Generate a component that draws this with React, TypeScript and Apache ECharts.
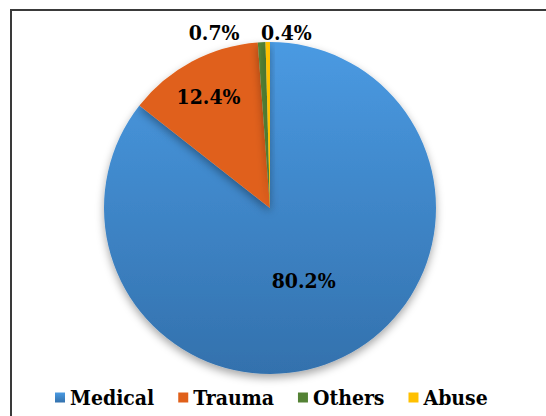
import React, { useEffect, useRef } from "react";
import * as echarts from "echarts";

const categories = ["Medical", "Trauma", "Others", "Abuse"];
const values = [80.2, 12.4, 0.7, 0.4];
const colors = ["#4393dc", "#e0601a", "#548235", "#ffc000"];
const labelOffsets: [number, number][] = [[-4, -5], [-21, -36], [-17, -8], [49, -8]];

export default function App() {
  const ref = useRef<HTMLDivElement>(null);
  useEffect(() => {
    if (!ref.current) return;
    const chart = echarts.init(ref.current, null, { renderer: "svg" });
    const font = "DejaVu Serif Condensed, DejaVu Serif";
    chart.setOption({
      animation: false,
      graphic: [
        {
          type: "rect",
          shape: { x: 11, y: 10, width: 560, height: 430 },
          style: { fill: "none", stroke: "#3a3a3a", lineWidth: 2 },
          silent: true,
        },
      ],
      legend: {
        bottom: 3,
        left: 50,
        icon: "rect",
        itemWidth: 10,
        itemHeight: 10,
        itemGap: 24,
        data: categories,
        textStyle: { fontFamily: font, fontWeight: "bold", fontSize: 21, color: "#000" },
      },
      series: [
        {
          type: "pie",
          center: [270, 208],
          radius: 166,
          startAngle: 90,
          clockwise: true,
          avoidLabelOverlap: false,
          label: {
            show: true,
            fontFamily: font,
            fontWeight: "bold",
            fontSize: 21,
            color: "#000",
            formatter: (p: any) => p.value.toFixed(1) + "%",
          },
          labelLayout: (p: any) => {
            const o = labelOffsets[p.dataIndex];
            return { dx: o[0], dy: o[1] };
          },
          data: categories.map((name, i) => ({
            name,
            value: values[i],
            itemStyle: {
              color:
                i === 0
                  ? new echarts.graphic.LinearGradient(0, 0, 0, 1, [
                      { offset: 0, color: "#4a9ae2" },
                      { offset: 1, color: "#3371ad" },
                    ])
                  : colors[i],
              shadowBlur: 8,
              shadowOffsetY: 4,
              shadowColor: "rgba(0,0,0,0.35)",
            },
            label: { position: i < 2 ? "inside" : "outside" },
            labelLine: { show: false, length: 2, length2: 0 },
          })),
        },
      ],
      color: colors,
    });
    return () => chart.dispose();
  }, []);
  return (
    <div
      ref={ref}
      style={{ position: "fixed", left: 0, top: 0, width: 546, height: 416, background: "#fff" }}
    />
  );
}
